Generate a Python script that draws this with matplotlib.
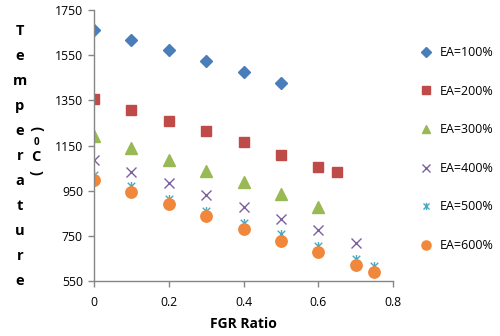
import matplotlib
matplotlib.use("Agg")
import matplotlib.pyplot as plt
from matplotlib.path import Path

# ---- data ----
x100 = [0, 0.1, 0.2, 0.3, 0.4, 0.5]
t100 = [1662, 1617, 1571, 1524, 1477, 1427]
x200 = [0, 0.1, 0.2, 0.3, 0.4, 0.5, 0.6, 0.65]
t200 = [1357, 1308, 1259, 1213, 1165, 1107, 1057, 1032]
x300 = [0, 0.1, 0.2, 0.3, 0.4, 0.5, 0.6]
t300 = [1191, 1140, 1088, 1035, 988, 937, 878]
x400 = [0, 0.1, 0.2, 0.3, 0.4, 0.5, 0.6, 0.7]
t400 = [1088, 1034, 982, 932, 879, 826, 775, 717]
x500 = [0, 0.1, 0.2, 0.3, 0.4, 0.5, 0.6, 0.7, 0.75]
t500 = [1020, 970, 915, 862, 809, 757, 705, 648, 618]
x600 = [0, 0.1, 0.2, 0.3, 0.4, 0.5, 0.6, 0.7, 0.75]
t600 = [997, 946, 889, 836, 780, 729, 677, 620, 588]
labels = ["EA=100%", "EA=200%", "EA=300%", "EA=400%", "EA=500%", "EA=600%"]
xticks = [0, 0.2, 0.4, 0.6, 0.8]
xticklabels = ["0", "0.2", "0.4", "0.6", "0.8"]
yticks = [550, 750, 950, 1150, 1350, 1550, 1750]

plt.rcParams['font.family'] = ['Open Sans', 'DejaVu Sans']

fig = plt.figure(figsize=(5.0, 3.36), dpi=100)
ax = fig.add_axes([0.188, 0.1637, 0.598, 0.8065])

star = Path([(-1, -1), (1, 1), (-1, 1), (1, -1), (0, -1.2), (0, 1.2)],
            [Path.MOVETO, Path.LINETO, Path.MOVETO, Path.LINETO, Path.MOVETO, Path.LINETO])

h1, = ax.plot(x100, t100, ls='none', marker='D', ms=6.3, color='#4A7EBB', mec='#4A7EBB')
h2, = ax.plot(x200, t200, ls='none', marker='s', ms=7.2, color='#BE4B48', mec='#BE4B48')
h3, = ax.plot(x300, t300, ls='none', marker='^', ms=8, color='#98B954', mec='#98B954')
h4, = ax.plot(x400, t400, ls='none', marker='x', ms=7, mew=1.0, color='#7D60A0')
h5, = ax.plot(x500, t500, ls='none', marker=star, ms=6.5, mew=1.0, color='#46AAC5', fillstyle='none')
h6, = ax.plot(x600, t600, ls='none', marker='o', ms=8.2, color='#F0873A', mec='#F0873A')

ax.set_xlim(0, 0.8)
ax.set_ylim(550, 1750)
ax.set_xticks(xticks)
ax.set_xticklabels(xticklabels)
ax.set_yticks(yticks)
for s in ['top', 'right']:
    ax.spines[s].set_visible(False)
for s in ['left', 'bottom']:
    ax.spines[s].set_color('#868686')
    ax.spines[s].set_linewidth(1.0)
ax.tick_params(axis='both', colors='#868686', labelcolor='black', labelsize=8.8,
               direction='out', length=4, width=1.0)
ax.tick_params(axis='y', pad=4)
ax.tick_params(axis='x', pad=7)

fig.text(243 / 500, 1 - 324 / 336, "FGR Ratio", fontsize=10, fontweight='bold',
         ha='center', va='center')

# stacked y label
word = "Temperature"
for i, ch in enumerate(word):
    y_px = 31 + i * 25
    fig.text(20 / 500, 1 - y_px / 336, ch, fontsize=10.5, fontweight='bold',
             ha='center', va='center')
fig.text(36 / 500, 1 - 129 / 336, "(", fontsize=10.5, fontweight='bold', rotation=-90,
         ha='center', va='center')
fig.text(36 / 500, 1 - 142 / 336, "0", fontsize=7, fontweight='bold', ha='center', va='center')
fig.text(36 / 500, 1 - 157 / 336, "C", fontsize=10.5, fontweight='bold', ha='center', va='center')
fig.text(36 / 500, 1 - 173 / 336, ")", fontsize=10.5, fontweight='bold', rotation=-90,
         ha='center', va='center')

fig.legend([h1, h2, h3, h4, h5, h6], labels, loc='upper left',
           bbox_to_anchor=(422 / 500, 1 - 46 / 336), frameon=False, fontsize=9,
           handlelength=0.7, handletextpad=0.75, labelspacing=2.05, borderpad=0,
           borderaxespad=0, markerscale=0.8)

fig.savefig("out.png", dpi=100)
